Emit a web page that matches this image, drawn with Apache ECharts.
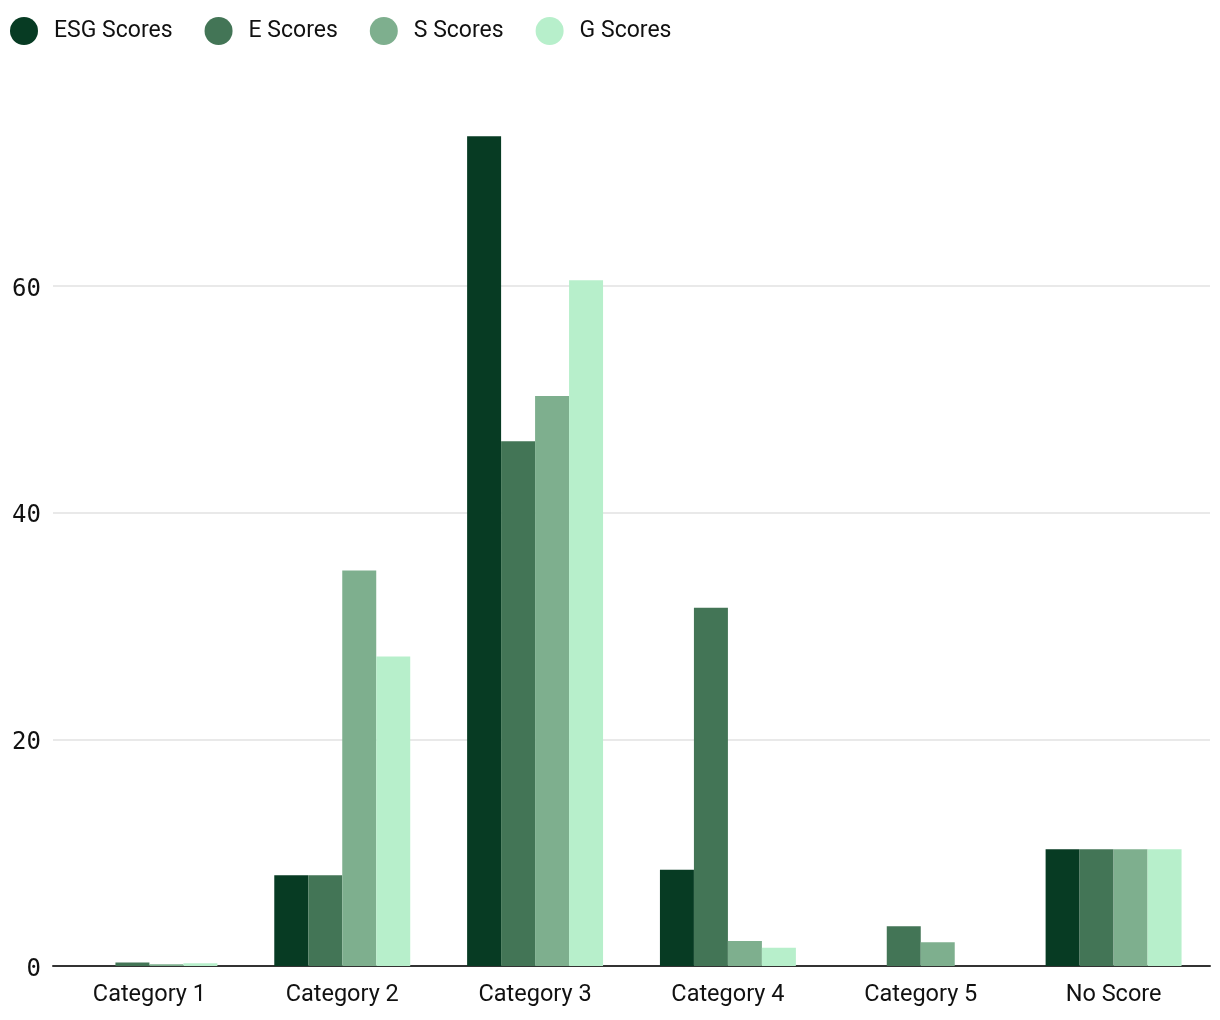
<!DOCTYPE html>
<html><head><meta charset="utf-8">
<script src="https://cdn.jsdelivr.net/npm/echarts@6/dist/echarts.min.js"></script>
<style>html,body{margin:0;padding:0;background:#fff}#c{width:1220px;height:1020px}</style>
</head><body><div id="c"></div>
<script>
const categories = ["Category 1","Category 2","Category 3","Category 4","Category 5","No Score"];
const seriesNames = ["ESG Scores","E Scores","S Scores","G Scores"];
const esgScores = [0, 8.0, 73.2, 8.5, 0, 10.3];
const eScores = [0.3, 8.0, 46.3, 31.6, 3.5, 10.3];
const sScores = [0.15, 34.9, 50.3, 2.2, 2.1, 10.3];
const gScores = [0.25, 27.3, 60.5, 1.6, 0, 10.3];
const yTicks = [0, 20, 40, 60];
const colors = ["#073b23","#437556","#7eaf8e","#b7efcb"];

const chart = echarts.init(document.getElementById('c'));
const data = [esgScores, eScores, sScores, gScores];
chart.setOption({
  animation: false,
  color: colors,
  legend: {
    left: 5, top: 12, icon: 'circle', itemWidth: 28, itemHeight: 28, itemGap: 32,
    textStyle: {fontFamily: 'Roboto', fontSize: 23, color: '#111', padding: [0,0,0,11]},
    data: seriesNames
  },
  grid: {left: 53, right: 10, top: 59.3, bottom: 54, containLabel: false},
  xAxis: {
    type: 'category', data: categories,
    axisLine: {lineStyle: {color: '#333', width: 2}},
    axisTick: {show: false},
    axisLabel: {fontFamily: 'Roboto', fontSize: 23.5, color: '#111', margin: 17}
  },
  yAxis: {
    type: 'value', min: 0, max: 80, interval: 20,
    axisLine: {show: false}, axisTick: {show: false},
    axisLabel: {color: '#111', margin: 12, showMaxLabel: false,
      formatter: v => yTicks.includes(v) ? '{m|' + v + '}' : '',
      rich: {m: {fontFamily: 'DejaVu Sans Mono', fontSize: 24, color: '#111', padding: [7,0,0,0]}}},
    splitLine: {showMaxLine: false, lineStyle: {color: '#e2e2e2', width: 1.5}}
  },
  series: seriesNames.map((n, i) => ({
    name: n, type: 'bar', data: data[i], barGap: '0%', barCategoryGap: '29.5%'
  }))
});
</script></body></html>
